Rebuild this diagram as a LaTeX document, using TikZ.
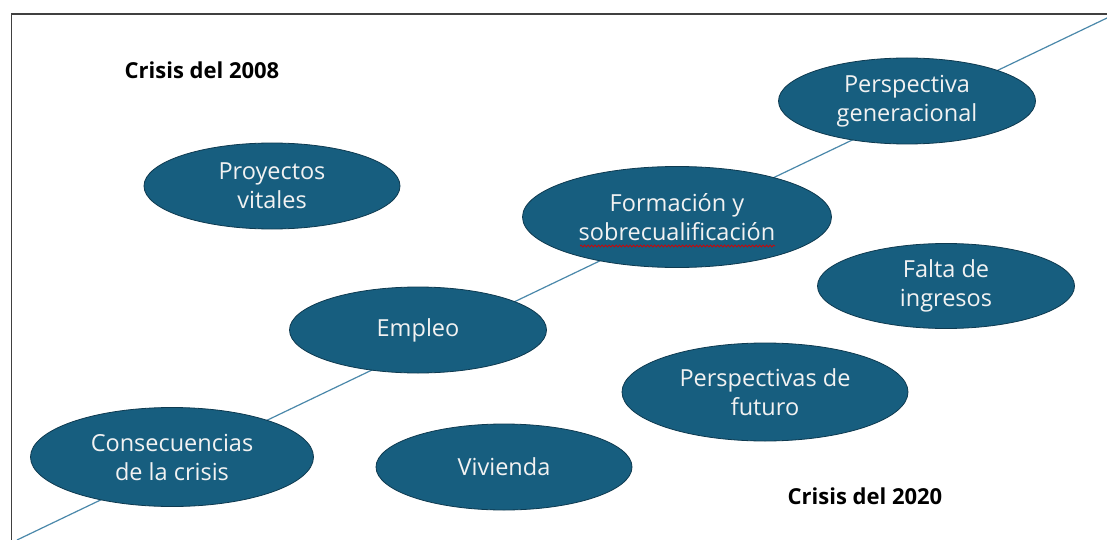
\documentclass[tikz,border=0pt]{standalone}
\usepackage{fontspec}
\setmainfont{Open Sans}
\usetikzlibrary{shapes.geometric,decorations.pathmorphing}
\definecolor{ovalfill}{HTML}{175E7F}
\definecolor{ovaledge}{HTML}{0E3A50}
\definecolor{axisline}{HTML}{4A88AA}
\definecolor{frameline}{HTML}{404040}
\definecolor{ovaltext}{HTML}{F2F2F2}
\tikzset{
  oval/.style={ellipse, fill=ovalfill, draw=ovaledge, line width=0.8pt,
    inner sep=0pt, text=ovaltext, align=center,
    font=\fontsize{23.5}{29}\selectfont},
  title/.style={font=\fontsize{22}{24}\selectfont\bfseries, text=black},
}
\begin{document}
\begin{tikzpicture}[x=1pt,y=-1pt]
\useasboundingbox (0,0) rectangle (1107,540);
\fill[white] (0,0) rectangle (1107,540);
% frame
\coordinate (fbl) at (11.5,540);
\coordinate (ftl) at (11.5,14);
\coordinate (ftr) at (1107,14);
\draw[frameline, line width=1.5pt] (fbl) -- (ftl) -- (ftr);
% diagonal axis
\coordinate (a0) at (17,540);
\coordinate (a1) at (1107,18);
\draw[axisline, line width=1.2pt] (a0) -- (a1);
% titles
\node[title] (t08) at (202,70) {Crisis del 2008};
\node[title] (t20) at (865,496) {Crisis del 2020};
% ovals
\node[oval, minimum width=256pt, minimum height=86pt] (proy) at (272,186) {Proyectos\\vitales};
\node[oval, minimum width=257pt, minimum height=86pt] (gen) at (907,101) {Perspectiva\\generacional};
\node[oval, minimum width=283pt, minimum height=99pt] (cons) at (172,457) {Consecuencias\\de la crisis};
\node[oval, minimum width=309pt, minimum height=101pt] (form) at (677,217) {Formación y\\sobrecualificación};
\node[oval, minimum width=257pt, minimum height=86pt] (emp) at (418,330) {Empleo};
\node[oval, minimum width=256pt, minimum height=86pt] (viv) at (504,467) {Vivienda};
\node[oval, minimum width=286pt, minimum height=98pt] (fut) at (765,392) {Perspectivas de\\futuro};
\node[oval, minimum width=257pt, minimum height=85pt] (ing) at (946,286) {Falta de\\ingresos};
% spell-check underline
\coordinate (sq0) at (580,246);
\coordinate (sq1) at (775,246);
\draw[red!85!black, line width=0.7pt, decorate, decoration={snake, amplitude=1pt, segment length=3.5pt}] (sq0) -- (sq1);
\end{tikzpicture}
\end{document}
